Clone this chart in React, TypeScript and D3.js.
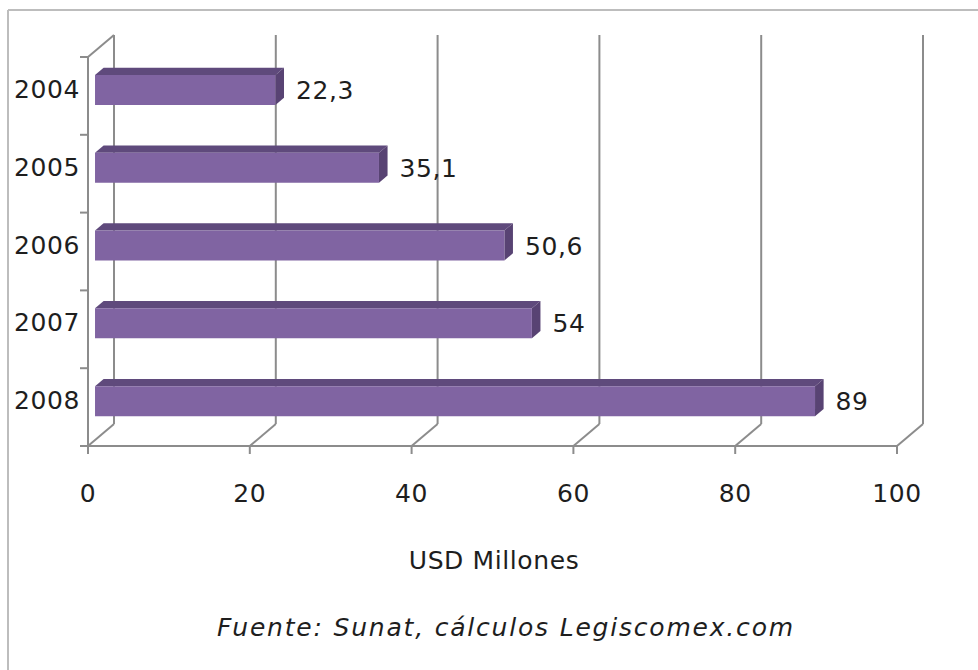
import React from "react";
import * as d3 from "d3";

const categories = ["2004", "2005", "2006", "2007", "2008"];
const values = [22.3, 35.1, 50.6, 54, 89];
const valueLabels = ["22,3", "35,1", "50,6", "54", "89"];
const xTicks = [0, 20, 40, 60, 80, 100];
const xTitle = "USD Millones";
const source = "Fuente: Sunat, cálculos Legiscomex.com";

const W = 978;
const H = 670;
const FONT = "Verdana, 'DejaVu Sans', sans-serif";
const FS = 25;
const LS = 0.6;

export default function App() {
  const x = d3.scaleLinear().domain([0, 100]).range([88, 897]);
  const y = d3.scaleBand().domain(categories).range([57, 446]).padding(0);
  const DX = 26;
  const DY = -22;
  const z0 = 0.27;
  const z1 = 0.6;
  const barH = 30;
  const grid = "#8c8c8c";
  const floorY = 446;

  const p = (px: number, py: number, z: number) => [px + DX * z, py + DY * z];
  const poly = (pts: number[][]) => pts.map((q) => q.join(",")).join(" ");

  return (
    <svg
      width={W}
      height={H}
      style={{ position: "absolute", left: 0, top: 0, background: "#fff" }}
      fontFamily={FONT}
    >
      {/* outer border */}
      <line x1={8} y1={10} x2={W} y2={10} stroke="#bdbdbd" strokeWidth={2} />
      <line x1={8} y1={10} x2={8} y2={H} stroke="#bdbdbd" strokeWidth={2} />

      {/* back wall gridlines + floor diagonals */}
      {xTicks.map((t) => {
        const fx = x(t);
        const [bx, by] = p(fx, floorY, 1);
        return (
          <g key={t}>
            <line x1={bx} y1={by} x2={bx} y2={57 + DY} stroke={grid} strokeWidth={2} />
            <line x1={fx} y1={floorY} x2={bx} y2={by} stroke={grid} strokeWidth={2} />
            <line x1={fx} y1={floorY} x2={fx} y2={floorY + 8} stroke={grid} strokeWidth={2} />
            <text
              x={fx}
              y={502}
              textAnchor="middle"
              fontSize={FS}
              letterSpacing={LS}
              fill="#1e1e1e"
            >
              {t}
            </text>
          </g>
        );
      })}

      {/* left wall */}
      <line x1={x(0)} y1={57} x2={x(0)} y2={floorY} stroke={grid} strokeWidth={2} />
      <line x1={x(0)} y1={57} x2={x(0) + DX} y2={57 + DY} stroke={grid} strokeWidth={2} />
      <line x1={x(0)} y1={floorY} x2={x(100)} y2={floorY} stroke={grid} strokeWidth={2} />
      {[...categories.map((c) => y(c) as number), 446].map((v, i) => (
        <line key={i} x1={x(0) - 8} y1={v} x2={x(0)} y2={v} stroke={grid} strokeWidth={2} />
      ))}

      {/* category labels */}
      {categories.map((c) => (
        <text
          key={c}
          x={80}
          y={(y(c) as number) + y.bandwidth() / 2 - 5}
          textAnchor="end"
          dominantBaseline="middle"
          fontSize={FS}
          letterSpacing={LS}
          fill="#1e1e1e"
        >
          {c}
        </text>
      ))}

      {/* bars */}
      {categories.map((c, i) => {
        const cy = (y(c) as number) + y.bandwidth() / 2;
        const top = cy - barH / 2;
        const bot = cy + barH / 2;
        const x0 = x(0);
        const x1 = x(values[i]);
        const fTL = p(x0, top, z0);
        const fTR = p(x1, top, z0);
        const fBR = p(x1, bot, z0);
        const fBL = p(x0, bot, z0);
        const bTL = p(x0, top, z1);
        const bTR = p(x1, top, z1);
        const bBR = p(x1, bot, z1);
        return (
          <g key={c}>
            <polygon points={poly([fTL, bTL, bTR, fTR])} fill="#5f4a7c" />
            <polygon points={poly([fTR, bTR, bBR, fBR])} fill="#584373" />
            <polygon points={poly([fTL, fTR, fBR, fBL])} fill="#8064a2" />
            <text
              x={bTR[0] + 12}
              y={(fTL[1] + fBL[1]) / 2 + 2}
              dominantBaseline="middle"
              fontSize={FS}
              letterSpacing={LS}
              fill="#1e1e1e"
            >
              {valueLabels[i]}
            </text>
          </g>
        );
      })}

      <text x={494} y={569} textAnchor="middle" fontSize={FS} letterSpacing={LS} fill="#1e1e1e">
        {xTitle}
      </text>
      <text
        x={506}
        y={636}
        textAnchor="middle"
        fontSize={FS}
        letterSpacing={1.8}
        fontStyle="italic"
        fill="#1e1e1e"
      >
        {source}
      </text>
    </svg>
  );
}
